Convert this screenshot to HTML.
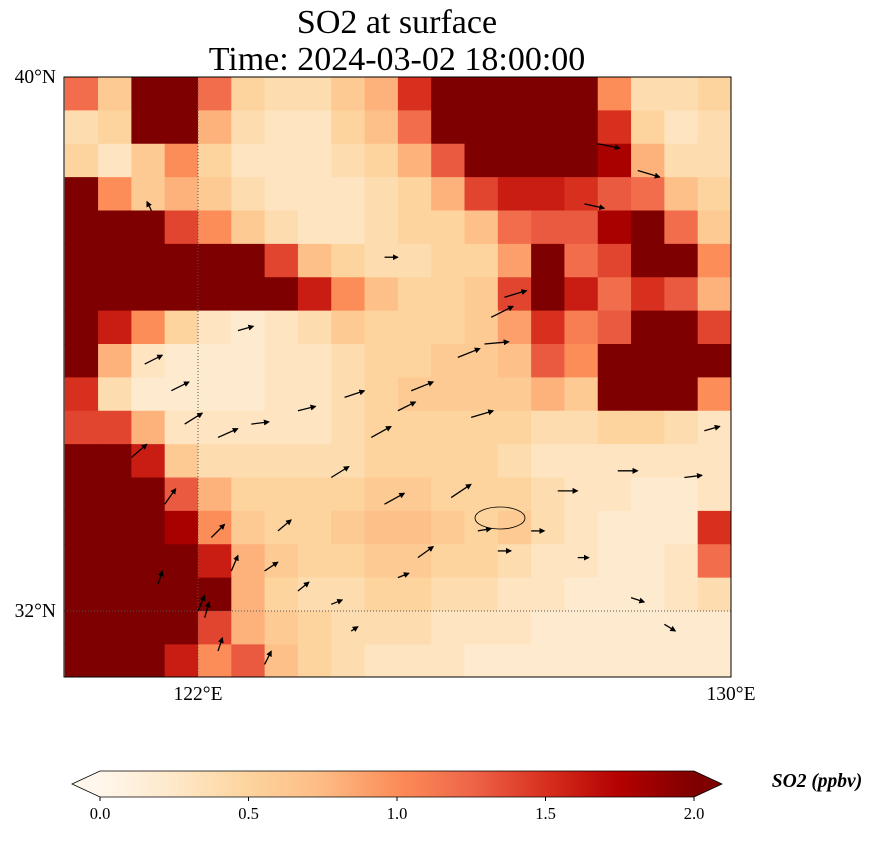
<!DOCTYPE html>
<html><head><meta charset="utf-8">
<style>
body{margin:0;background:#fff;width:875px;height:836px;overflow:hidden;font-family:"Liberation Serif",serif;}
svg text{font-family:"Liberation Serif",serif;}
</style></head>
<body>
<svg id="chart" width="875" height="836" xmlns="http://www.w3.org/2000/svg">
  <defs>
    <linearGradient id="cbgrad" x1="0" x2="1" y1="0" y2="0">
      <stop offset="0" stop-color="#fff7ec"/><stop offset="0.125" stop-color="#fee8c8"/>
      <stop offset="0.25" stop-color="#fdd49e"/><stop offset="0.375" stop-color="#fdbb84"/>
      <stop offset="0.5" stop-color="#fc8d59"/><stop offset="0.625" stop-color="#ef6548"/>
      <stop offset="0.75" stop-color="#d7301f"/><stop offset="0.875" stop-color="#b30000"/>
      <stop offset="1" stop-color="#7f0000"/>
    </linearGradient>
    <clipPath id="mapclip"><rect x="64" y="77" width="667" height="600"/></clipPath>
    <marker id="ah" markerWidth="6" markerHeight="6" refX="5" refY="3" orient="auto" markerUnits="userSpaceOnUse">
      <path d="M0,0 L6,3 L0,6 z" fill="#000"/>
    </marker>
  </defs>
  <text x="397" y="33" font-size="34" text-anchor="middle">SO2 at surface</text>
  <text x="397" y="70" font-size="34" text-anchor="middle">Time: 2024-03-02 18:00:00</text>
  <g id="cells" clip-path="url(#mapclip)"></g>
  <g id="grid"></g>
  <ellipse cx="500" cy="518" rx="25" ry="11" fill="none" stroke="#000" stroke-width="0.8"/>
  <g id="arrows" clip-path="url(#mapclip)"></g>
  <rect x="64" y="77" width="667" height="600" fill="none" stroke="#000" stroke-width="1"/>
  <g id="ticks"></g>
  <g>
    <rect x="100" y="771" width="594" height="26" fill="url(#cbgrad)"/>
    <polygon points="100,771 72,784 100,797" fill="#fff7ec"/>
    <polygon points="694,771 722,784 694,797" fill="#7f0000"/>
    <polygon points="100,771 694,771 722,784 694,797 100,797 72,784" fill="none" stroke="#000" stroke-width="0.8"/>
    <g id="cbticks"></g>
    <text x="817" y="787" font-size="19.5" font-weight="bold" font-style="italic" text-anchor="middle">SO2 (ppbv)</text>
  </g>
</svg>
<script>
const lonEdges0 = 120, latTop = 40, cellDeg = 0.5;
const so2Rows = [
 [1.2,0.6,2,2,1.2,0.5,0.4,0.4,0.6,0.8,1.5,2,2,2,2,2,1.0,0.4,0.4,0.5],
 [0.4,0.5,2,2,0.8,0.4,0.3,0.3,0.5,0.7,1.2,2,2,2,2,2,1.5,0.5,0.3,0.4],
 [0.5,0.3,0.6,1.0,0.5,0.3,0.3,0.3,0.4,0.5,0.8,1.3,2,2,2,2,1.8,0.8,0.4,0.4],
 [2,1.0,0.6,0.8,0.6,0.4,0.3,0.3,0.3,0.4,0.5,0.8,1.4,1.6,1.6,1.5,1.3,1.2,0.7,0.5],
 [2,2,2,1.4,1.0,0.6,0.4,0.3,0.3,0.4,0.5,0.5,0.7,1.2,1.3,1.3,1.8,2,1.2,0.6],
 [2,2,2,2,2,2,1.4,0.7,0.5,0.4,0.4,0.5,0.5,0.9,2,1.2,1.4,2,2,1.0],
 [2,2,2,2,2,2,2,1.6,1.0,0.7,0.5,0.5,0.6,1.4,2,1.6,1.2,1.5,1.3,0.8],
 [2,1.6,1.0,0.5,0.3,0.2,0.3,0.4,0.6,0.5,0.5,0.5,0.6,0.9,1.5,1.1,1.3,2,2,1.4],
 [2,0.8,0.3,0.2,0.2,0.2,0.3,0.3,0.4,0.5,0.5,0.6,0.6,0.7,1.3,1.0,2,2,2,2],
 [1.5,0.4,0.2,0.2,0.2,0.2,0.3,0.3,0.4,0.5,0.6,0.6,0.6,0.6,0.8,0.6,2,2,2,1.0],
 [1.4,1.4,0.8,0.3,0.3,0.3,0.3,0.3,0.4,0.5,0.5,0.5,0.5,0.5,0.4,0.4,0.5,0.5,0.4,0.3],
 [2,2,1.6,0.6,0.4,0.4,0.4,0.4,0.4,0.5,0.5,0.5,0.5,0.4,0.3,0.3,0.3,0.3,0.3,0.3],
 [2,2,2,1.3,0.8,0.5,0.5,0.5,0.5,0.6,0.6,0.5,0.5,0.5,0.4,0.3,0.3,0.2,0.2,0.3],
 [2,2,2,1.8,1.0,0.6,0.5,0.5,0.6,0.7,0.7,0.6,0.5,0.6,0.4,0.3,0.2,0.2,0.2,1.5],
 [2,2,2,2,1.6,0.8,0.6,0.5,0.5,0.6,0.6,0.5,0.5,0.4,0.3,0.3,0.2,0.2,0.3,1.2],
 [2,2,2,2,2,0.8,0.5,0.4,0.4,0.5,0.5,0.4,0.4,0.3,0.3,0.2,0.2,0.2,0.3,0.4],
 [2,2,2,2,1.4,0.8,0.6,0.5,0.4,0.4,0.4,0.3,0.3,0.3,0.2,0.2,0.2,0.2,0.2,0.2],
 [2,2,2,1.6,1.0,1.3,0.7,0.5,0.4,0.3,0.3,0.3,0.2,0.2,0.2,0.2,0.2,0.2,0.2,0.2]
];
const windLon = [121.2,121.6,121.8,122.3,122.6,121.0,121.5,122.2,123.0,123.5,124.3,124.8,125.3,125.8,126.1,126.3,121.4,122.0,122.5,123.2,124.0,124.6,125.2,125.9,126.4,122.1,122.8,123.5,124.2,125.0,126.2,127.0,127.7,128.5,129.0,122.3,123.0,124.0,125.0,126.5,127.4,128.3,129.3,129.6,127.8,128.0,121.3,124.8,126.6,128.6];
const windLat = [35.7,35.3,34.8,34.6,36.2,34.3,33.6,33.1,32.6,32.3,31.7,33.6,32.8,33.7,34.9,36.0,32.4,32.0,32.6,33.2,34.0,34.6,35.3,35.8,36.4,31.9,34.8,35.0,35.2,35.0,33.2,33.2,32.8,32.2,31.8,31.4,31.2,32.1,32.5,32.9,33.8,34.1,34.0,34.7,38.1,39.0,38.0,37.3,36.7,38.6];
const windU = [0.8,0.8,0.8,0.9,0.7,0.7,0.5,0.6,0.6,0.5,0.3,0.9,0.7,0.9,1.0,1.1,0.2,0.3,0.3,0.6,0.8,0.9,1.0,1.0,1.0,0.2,0.8,0.8,0.9,0.8,0.6,0.6,0.5,0.6,0.5,0.2,0.3,0.5,0.5,0.6,0.9,0.9,0.8,0.7,0.9,1.0,-0.2,0.6,1.0,1.0];
const windV = [0.4,0.4,0.5,0.4,0.2,0.6,0.7,0.6,0.4,0.4,0.2,0.5,0.5,0.6,0.3,0.1,0.6,0.7,0.7,0.5,0.5,0.5,0.4,0.4,0.5,0.7,0.1,0.2,0.3,0.4,0.1,0.0,0.0,-0.2,-0.3,0.6,0.6,0.2,0.2,0.0,0.0,0.0,0.1,0.2,-0.2,-0.2,0.4,0.0,0.3,-0.3];
const xTickLon = [122,130];
const yTickLat = [40,32];
const cbTicks = [0.0,0.5,1.0,1.5,2.0];

const NS="http://www.w3.org/2000/svg";
const pxPerLon=(731-198)/8, pxPerLat=(611-77)/8;
const xs = lon => 198 + (lon-122)*pxPerLon;
const ys = lat => 77 + (40-lat)*pxPerLat;
const stops=["#fff7ec","#fee8c8","#fdd49e","#fdbb84","#fc8d59","#ef6548","#d7301f","#b30000","#7f0000"];
function hex(c){return [1,3,5].map(i=>parseInt(c.substr(i,2),16));}
function color(v){
  let t=Math.max(0,Math.min(1,v/2))*8, i=Math.min(7,Math.floor(t)), f=t-i;
  const a=hex(stops[i]), b=hex(stops[i+1]);
  return "rgb("+a.map((c,k)=>Math.round(c+(b[k]-c)*f)).join(",")+")";
}
const cells=document.getElementById('cells');
so2Rows.forEach((row,r)=>row.forEach((v,c)=>{
  const lonA=lonEdges0+c*cellDeg, latA=latTop-r*cellDeg;
  const rc=document.createElementNS(NS,'rect');
  
  
  rc.setAttribute('x',xs(lonA)); rc.setAttribute('y',ys(latA));
  rc.setAttribute('width',cellDeg*pxPerLon+0.6); rc.setAttribute('height',cellDeg*pxPerLat+0.6);
  rc.setAttribute('fill',color(v));
  cells.appendChild(rc);
}));
const grid=document.getElementById('grid');
xTickLon.forEach(l=>{const ln=document.createElementNS(NS,'line');
  
  
  ln.setAttribute('x1',xs(l));ln.setAttribute('x2',xs(l));ln.setAttribute('y1',77);ln.setAttribute('y2',677);
  ln.setAttribute('stroke','#555');ln.setAttribute('stroke-dasharray','1,2');ln.setAttribute('stroke-width','1');grid.appendChild(ln);});
yTickLat.forEach(l=>{const ln=document.createElementNS(NS,'line');
  
  
  ln.setAttribute('x1',64);ln.setAttribute('x2',731);ln.setAttribute('y1',ys(l));ln.setAttribute('y2',ys(l));
  ln.setAttribute('stroke','#555');ln.setAttribute('stroke-dasharray','1,2');ln.setAttribute('stroke-width','1');grid.appendChild(ln);});
const arrows=document.getElementById('arrows');
windLon.forEach((lon,i)=>{
  const sc=22, x=xs(lon), y=ys(windLat[i]);
  const ln=document.createElementNS(NS,'line');
  
  
  ln.setAttribute('x1',x);ln.setAttribute('y1',y);
  ln.setAttribute('x2',x+windU[i]*sc);ln.setAttribute('y2',y-windV[i]*sc);
  ln.setAttribute('stroke','#000');ln.setAttribute('stroke-width','1.3');ln.setAttribute('marker-end','url(#ah)');
  arrows.appendChild(ln);
});
const ticks=document.getElementById('ticks');
xTickLon.forEach(l=>{const t=document.createElementNS(NS,'text');
  
  
  t.setAttribute('x',xs(l));t.setAttribute('y',700);t.setAttribute('font-size','19.5');t.setAttribute('text-anchor','middle');
  t.textContent=l+"°E";ticks.appendChild(t);});
yTickLat.forEach(l=>{const t=document.createElementNS(NS,'text');
  
  
  t.setAttribute('x',56);t.setAttribute('y',ys(l)+6);t.setAttribute('font-size','19.5');t.setAttribute('text-anchor','end');
  t.textContent=l+"°N";ticks.appendChild(t);});
const cbt=document.getElementById('cbticks');
cbTicks.forEach(v=>{const x=100+v/2*594;
  const tk=document.createElementNS(NS,'line');
  
  
  tk.setAttribute('x1',x);tk.setAttribute('x2',x);tk.setAttribute('y1',797);tk.setAttribute('y2',801);tk.setAttribute('stroke','#000');cbt.appendChild(tk);
  const t=document.createElementNS(NS,'text');
  
  
  t.setAttribute('x',x);t.setAttribute('y',819);t.setAttribute('font-size','16.5');t.setAttribute('text-anchor','middle');
  t.textContent=v.toFixed(1);cbt.appendChild(t);});
</script>
</body></html>
